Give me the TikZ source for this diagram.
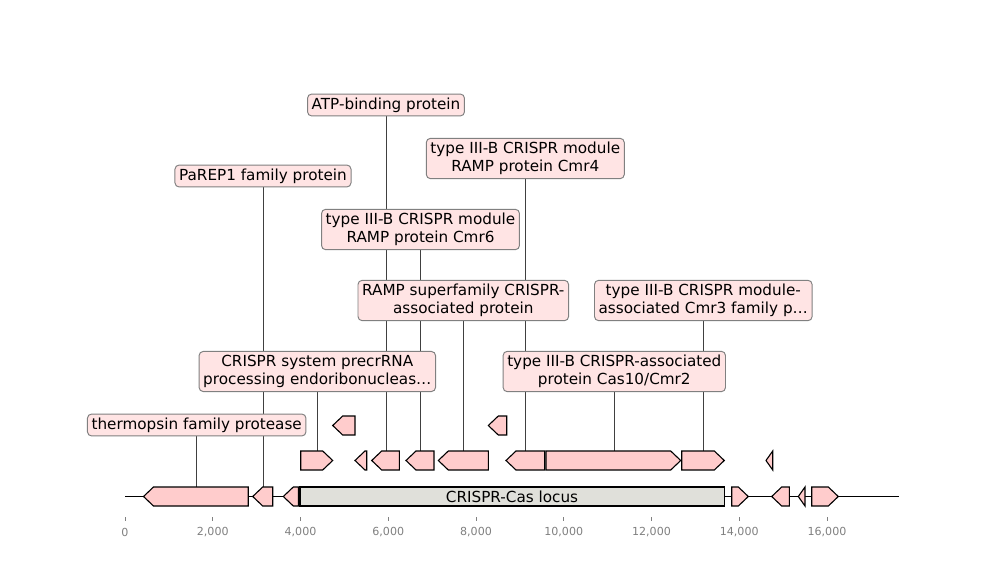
\documentclass[tikz,border=0pt]{standalone}
\usepackage{fontspec}
\setmainfont{DejaVu Sans}
\usepackage{xcolor}
\usepackage{tikz}
\usetikzlibrary{backgrounds}
\definecolor{genefill}{RGB}{255,204,204}
\definecolor{boxfill}{RGB}{255,228,228}
\definecolor{boxedge}{RGB}{128,128,128}
\definecolor{locusfill}{RGB}{224,224,218}
\definecolor{leadgray}{RGB}{64,64,64}
\definecolor{tickgray}{RGB}{128,128,128}

% forward / reverse gene arrows: start, end, row centre (pixels)
\newcommand{\genefwd}[3]{%
  \pgfmathsetmacro{\gnhead}{max(#1,#2-10)}%
  \draw[gene] (#1,#3-9.5) -- (\gnhead,#3-9.5) -- (#2,#3) -- (\gnhead,#3+9.5)
    -- (#1,#3+9.5) -- cycle;}
\newcommand{\generev}[3]{%
  \pgfmathsetmacro{\gnhead}{min(#2,#1+10)}%
  \draw[gene] (#2,#3-9.5) -- (\gnhead,#3-9.5) -- (#1,#3) -- (\gnhead,#3+9.5)
    -- (#2,#3+9.5) -- cycle;}

\begin{document}
\begin{tikzpicture}[x=0.01in, y=-0.01in,
    font=\fontsize{11}{13.3}\selectfont,
    gene/.style={draw=black, line width=0.8pt, fill=genefill, line join=miter},
    lab/.style={draw=boxedge, line width=0.7pt, fill=boxfill, rounded corners=3pt,
                align=center, inner xsep=3pt, inner ysep=2.6pt},
    leader/.style={leadgray, line width=0.6pt},
    tick/.style={tickgray, line width=0.6pt}]
  \useasboundingbox (0,0) rectangle (1000,580);

  % backbone and axis
  \draw[line width=1.4pt] (125,496.5) -- (899.3,496.5);
  \foreach \k/\txt in {0/0, 1/{2,000}, 2/{4,000}, 3/{6,000}, 4/{8,000},
                       5/{10,000}, 6/{12,000}, 7/{14,000}, 8/{16,000}} {
    \draw[tick] (125+\k*87.75,517) -- (125+\k*87.75,521);
    \node[tickgray, font=\fontsize{8}{9.6}\selectfont] (tk\k) at (125+\k*87.75,532) {\txt};
  }

  % bottom row
  \generev{143.5}{248.3}{496.5}
  \generev{252.7}{272.7}{496.5}
  \generev{283.3}{298.3}{496.5}
  \draw[gene, fill=locusfill] (300,487) rectangle (724.3,506);
  \node (locus) at (512,496.5) {CRISPR-Cas locus};
  \genefwd{731.7}{748.3}{496.5}
  \generev{771.7}{789.3}{496.5}
  \generev{798.3}{805}{496.5}
  \genefwd{811.7}{838.3}{496.5}

  % middle row
  \genefwd{300.7}{332.7}{460.5}
  \generev{355}{366.7}{460.5}
  \generev{371.7}{399.3}{460.5}
  \generev{406}{434}{460.5}
  \generev{438.3}{488.3}{460.5}
  \generev{506}{544.7}{460.5}
  \genefwd{546}{680.7}{460.5}
  \genefwd{681.7}{724.3}{460.5}
  \generev{766}{772.7}{460.5}

  % top row
  \generev{332.7}{355}{425.5}
  \generev{488.3}{506.7}{425.5}

  % feature tops the labels point at
  \coordinate (thermo-top) at (196.7,487);
  \coordinate (parep-top) at (263,487);
  \coordinate (atp-top) at (386,451);
  \coordinate (precr-top) at (317.3,451);
  \coordinate (cmr6-top) at (420.5,451);
  \coordinate (rampsf-top) at (463.3,451);
  \coordinate (cmr4-top) at (525.3,451);
  \coordinate (cas10-top) at (614.3,451);
  \coordinate (cmr3-top) at (703.3,451);

  % labels
  \node[lab] (thermo) at (196.7,425) {thermopsin family protease};
  \node[lab] (parep) at (263,176) {PaREP1 family protein};
  \node[lab] (atp) at (386,105) {ATP-binding protein};
  \node[lab] (precr) at (317.3,371.5) {CRISPR system precrRNA\\processing endoribonucleas\ldots};
  \node[lab] (cmr6) at (420.5,229.5) {type III-B CRISPR module\\RAMP protein Cmr6};
  \node[lab] (rampsf) at (463.3,300.5) {RAMP superfamily CRISPR-\\associated protein};
  \node[lab] (cmr4) at (525.3,158.5) {type III-B CRISPR module\\RAMP protein Cmr4};
  \node[lab] (cas10) at (614.3,371.5) {type III-B CRISPR-associated\\protein Cas10/Cmr2};
  \node[lab] (cmr3) at (703.3,300.5) {type III-B CRISPR module-\\associated Cmr3 family p\ldots};

  \begin{scope}[on background layer]
    \foreach \f in {thermo, parep, atp, precr, cmr6, rampsf, cmr4, cas10, cmr3}
      \draw[leader] (\f.south) -- (\f-top);
  \end{scope}
\end{tikzpicture}
\end{document}
